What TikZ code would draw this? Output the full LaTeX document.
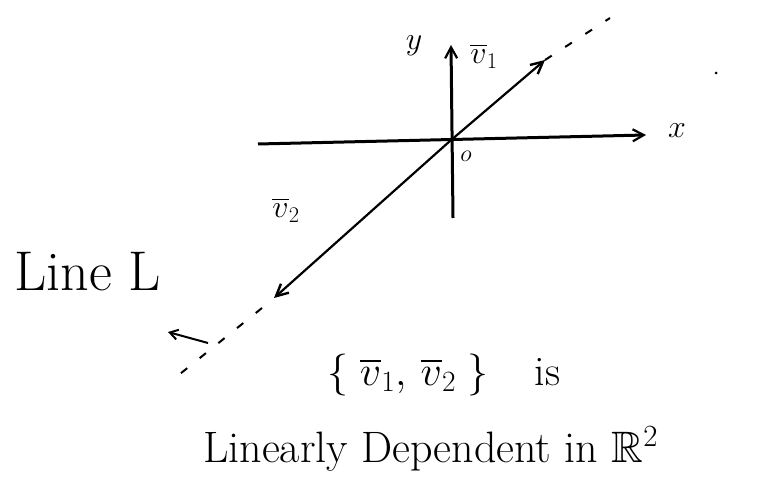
\RequirePackage{fix-cm}
\documentclass[tikz,border=0pt]{standalone}
\usepackage{amssymb}
\usetikzlibrary{arrows.meta}
\begin{document}
\begin{tikzpicture}[x=1pt,y=-1pt,
  axis/.style={line width=3pt,-{Straight Barb[length=11pt,width=12pt,line width=2.2pt]}},
  vec/.style={line width=2.2pt,-{Straight Barb[length=12pt,width=12pt,line width=2.4pt]}},
  ext/.style={line width=2pt,dash pattern=on 8pt off 16pt},
  lbl/.style={inner sep=0pt,font=\fontsize{32}{36}\selectfont},
  big/.style={inner sep=0pt,font=\fontsize{44}{50}\selectfont}]
\useasboundingbox (0,0) rectangle (759,494);
% coordinates
\coordinate (O) at (450,141);
\coordinate (xs) at (258,144);
\coordinate (xe) at (646,135);
\coordinate (ys) at (453,218);
\coordinate (ye) at (451,45);
\coordinate (v1) at (545,60);
\coordinate (v1d) at (610,18);
\coordinate (v2) at (274,298);
\coordinate (v2d) at (170,382);
\coordinate (pa) at (208,343);
\coordinate (pb) at (168,332);
% axes
\draw[axis] (xs) -- (xe);
\draw[axis] (ys) -- (ye);
% line L with vectors
\draw[vec] (O) -- (v1);
\draw[vec] (O) -- (v2);
\draw[ext] (v1) -- (v1d);
\draw[ext] ([shift={(-12,10)}]v2) -- (v2d);
\draw[line width=2pt,-{Straight Barb[length=8pt,width=10pt,line width=2pt]}] (pa) -- (pb);
% stray dot
\fill (716,73) circle (1.5);
% labels
\node[lbl] (xl) at (677,131) {$x$};
\node[lbl] (yl) at (414,46) {$y$};
\node[lbl] (ol) at (466,156) {\fontsize{24}{26}\selectfont$o$};
\node[lbl] (v1l) at (484,56) {$\overline{v}_1$};
\node[lbl] (v2l) at (286,210) {$\overline{v}_2$};
\node[inner sep=0pt,font=\fontsize{56}{60}\selectfont,anchor=base west] (lineL) at (14,290) {Line L};
\node[inner sep=0pt,anchor=base west] (set) at (327,385) {\fontsize{42}{48}\selectfont$\{\;\overline{v}_1,\,\overline{v}_2\;\}$\hspace{1.1em}is};
\node[big,anchor=base west] (dep) at (203,462) {Linearly Dependent in $\mathbb{R}^2$};
\end{tikzpicture}
\end{document}
